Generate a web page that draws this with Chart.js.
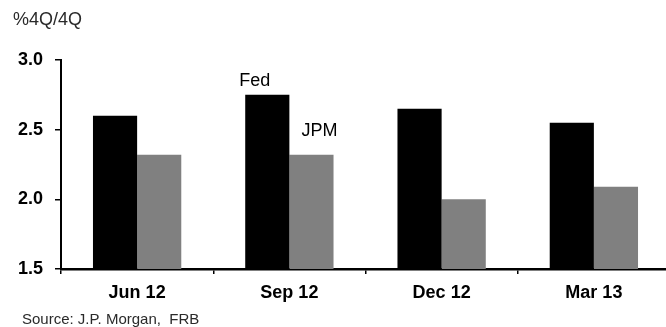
<!DOCTYPE html>
<html>
<head>
<meta charset="utf-8">
<script src="https://cdn.jsdelivr.net/npm/chart.js@4.4.1/dist/chart.umd.min.js"></script>
<style>
  html, body { margin: 0; padding: 0; background: #fff; overflow: hidden; }
  #wrap { position: absolute; left: 0; top: 0; width: 670px; height: 327px; }
</style>
</head>
<body>
<div id="wrap"><canvas id="c" width="670" height="327"></canvas></div>
<script>
// Quarter-end projections, % change Q4/Q4
const categories = ['Jun 12', 'Sep 12', 'Dec 12', 'Mar 13'];
const fedValues = [2.6, 2.75, 2.65, 2.55];
const jpmValues = [2.32, 2.32, 2.0, 2.09];
const yTicks = [1.5, 2.0, 2.5, 3.0];

const FONT = "'Liberation Sans', Arial, sans-serif";

// Axis unit, source note and series names written on the canvas
const notes = {
  id: 'notes',
  afterDatasetsDraw(chart) {
    const ctx = chart.ctx;
    ctx.save();
    ctx.textBaseline = 'alphabetic';
    ctx.textAlign = 'left';

    ctx.fillStyle = '#2a2a2a';
    ctx.font = '18px ' + FONT;
    ctx.fillText('%4Q/4Q', 13, 25);

    ctx.font = '15px ' + FONT;
    ctx.fillText('Source: J.P. Morgan,  FRB', 22, 324);

    // series names placed next to the Sep 12 bars
    const fedBar = chart.getDatasetMeta(0).data[1];
    const jpmBar = chart.getDatasetMeta(1).data[1];
    ctx.fillStyle = '#000';
    ctx.font = '18px ' + FONT;
    ctx.fillText('Fed', fedBar.x - fedBar.width / 2 - 6, fedBar.y - 9);
    ctx.fillText('JPM', jpmBar.x - 10, jpmBar.y - 19);
    ctx.restore();
  }
};

new Chart(document.getElementById('c'), {
  type: 'bar',
  data: {
    labels: categories,
    datasets: [
      { label: 'Fed', data: fedValues, backgroundColor: '#000000',
        categoryPercentage: 0.58, barPercentage: 1.0 },
      { label: 'JPM', data: jpmValues, backgroundColor: '#808080',
        categoryPercentage: 0.58, barPercentage: 1.0 }
    ]
  },
  options: {
    responsive: false,
    animation: false,
    devicePixelRatio: 1,
    layout: { padding: { top: 60, left: 0, right: 0, bottom: 0 } },
    plugins: { legend: { display: false }, tooltip: { enabled: false } },
    scales: {
      x: {
        grid: { offset: true, drawOnChartArea: false, drawTicks: true,
                tickLength: 5, color: '#000', lineWidth: 1.5 },
        border: { display: true, color: '#000', width: 2.5 },
        ticks: { color: '#000', padding: 8,
                 font: { family: FONT, size: 18, weight: 'bold' } },
        afterFit(scale) { scale.height = 58; }
      },
      y: {
        min: 1.5, max: 3.0,
        afterBuildTicks(scale) { scale.ticks = yTicks.map(v => ({ value: v })); },
        grid: { drawOnChartArea: false, drawTicks: true, tickLength: 6,
                color: '#000', lineWidth: 1.5 },
        border: { display: true, color: '#000', width: 2 },
        ticks: { color: '#000', padding: 12,
                 font: { family: FONT, size: 18, weight: 'bold' },
                 callback: v => v.toFixed(1) },
        afterFit(scale) { scale.width = 61; }
      }
    }
  },
  plugins: [notes]
});
</script>
</body>
</html>
